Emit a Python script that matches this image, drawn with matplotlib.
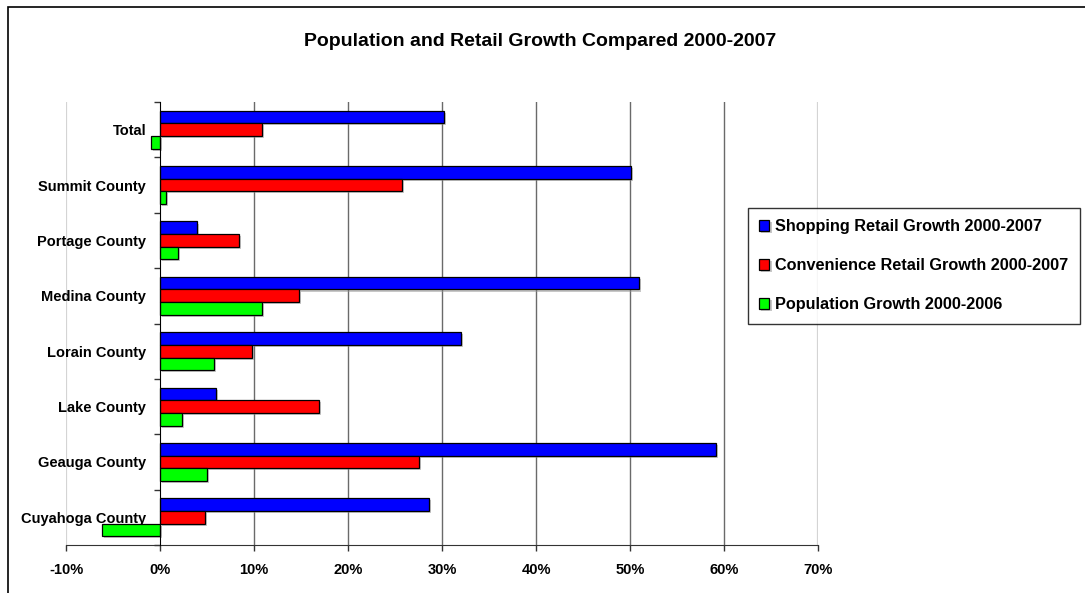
import matplotlib.pyplot as plt
import matplotlib.patheffects as pe
from matplotlib.patches import Rectangle
from matplotlib.ticker import PercentFormatter
import numpy as np

plt.rcParams['font.family'] = ['Liberation Sans', 'DejaVu Sans']
plt.rcParams['font.weight'] = 'bold'
plt.rcParams['axes.unicode_minus'] = False

# Data (percent), bottom to top as drawn
areas = ["Cuyahoga County", "Geauga County", "Lake County", "Lorain County",
         "Medina County", "Portage County", "Summit County", "Total"]
shopping = [28.6, 59.1, 6.0, 32.0, 51.0, 3.9, 50.1, 30.2]
convenience = [4.8, 27.5, 16.9, 9.8, 14.8, 8.4, 25.7, 10.8]
population = [-6.2, 5.0, 2.3, 5.7, 10.8, 1.9, 0.6, -1.0]

series = [
    ("Shopping Retail Growth 2000-2007", shopping, "#0000ff"),
    ("Convenience Retail Growth 2000-2007", convenience, "#ff0000"),
    ("Population Growth 2000-2006", population, "#00ff00"),
]

fig = plt.figure(figsize=(10.85, 5.93), dpi=100)
ax = fig.add_axes([66 / 1085, 1 - 545 / 593, 752 / 1085, 443 / 593])

y = np.arange(len(areas))
h = 0.228
shadow = [pe.SimplePatchShadow(offset=(1.5, -1.5), shadow_rgbFace='#909090', alpha=0.5), pe.Normal()]
for k, (name, vals, col) in enumerate(series):
    bars = ax.barh(y + (1 - k) * h, vals, height=h, color=col, edgecolor='black',
                   linewidth=0.9, label=name, zorder=3)
    for b in bars:
        b.set_path_effects(shadow)

ax.set_xlim(-10, 70)
ax.set_ylim(-0.5, len(areas) - 0.5)

# vertical gridlines: outer ones light, inner ones dark
xt = np.arange(-10, 71, 10)
for v in xt:
    if v == 0:
        continue
    edge = v in (-10, 70)
    ax.axvline(v, color='#d4d4d4' if edge else '#6a6a6a', lw=1.6 if edge else 1.0, zorder=1)

ax.set_xticks(xt)
ax.xaxis.set_major_formatter(PercentFormatter(xmax=100, decimals=0))
ax.set_yticks(y)
ax.set_yticklabels(areas)
ax.set_yticks(np.arange(-0.5, len(areas)), minor=True)
ax.tick_params(axis='y', which='major', length=0, pad=10, labelsize=10.5)
ax.tick_params(axis='y', which='minor', length=4, width=1, color='#333333')
ax.tick_params(axis='x', length=4, width=1, color='#333333', pad=9, labelsize=10.5)

ax.spines['left'].set_position(('data', 0))
ax.spines['left'].set_zorder(4)
ax.spines['top'].set_visible(False)
ax.spines['right'].set_visible(False)
ax.spines['bottom'].set_color('#333333')

fig.text(540 / 1085, 1 - 41 / 593, "Population and Retail Growth Compared 2000-2007",
         ha='center', va='center', fontsize=14, weight='bold')

leg = fig.legend(loc='upper left', bbox_to_anchor=(748 / 1085, 1 - 208 / 593),
                 fontsize=11.7, frameon=True, fancybox=False, handlelength=0.62,
                 handleheight=0.62, handletextpad=0.36, labelspacing=1.47,
                 borderpad=0.7, borderaxespad=0)
leg.get_frame().set_edgecolor('black')
leg.get_frame().set_linewidth(1.0)

# outer frame around the chart
fig.add_artist(Rectangle((8 / 1085, -0.1), 1.1, 1.1 - 7 / 593, transform=fig.transFigure,
                         fill=False, edgecolor='black', lw=1.2))

plt.savefig("out.png", dpi=100)
